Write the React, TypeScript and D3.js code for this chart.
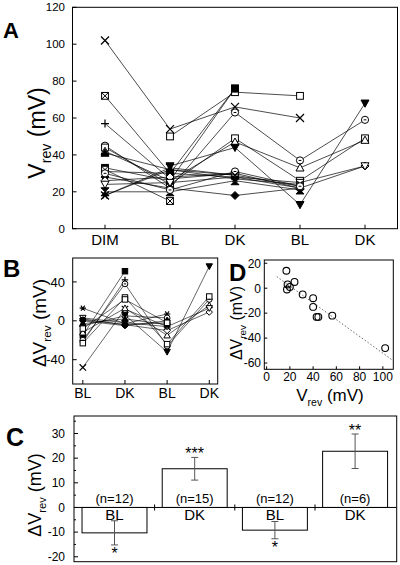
import React from "react";
import * as d3 from "d3";

const FONT = "'Liberation Sans', Arial, Helvetica, sans-serif";

// ---------- Panel A: Vrev per cell across conditions ----------
const catsA = ["DIM", "BL", "DK", "BL", "DK"];
const markersA = ["x", "sq", "sqx", "plus", "circ", "sq", "tri", "tridf", "trif", "sqf", "circf", "diamf", "diam", "trid", "star", "hour", "sqx", "circ", "x"];
const dimA = [102, null, 72, 57, 45, 44, 42, null, 41, 33, 31, 28, 26, 24, 18, 20, 32, 30, 18];
const bl1A = [54, 50, 30, 27, 22, 24, 26, 34, 32, 26, 30, 22, 28, 25, 32, 20, 15, 21, 33];
const dk1A = [66, 74, 76, 30, 63, 49, 47, 44, 29, 76, 28, 18, 30, 28, 27, 26, null, 31, 29];
const bl2A = [60, 72, null, null, 37, 26, 33, 13, 23, null, 22, 22, 22, 25, 24, 21, null, 23, null];
const dk2A = [null, null, null, null, 59, 49, 48, 68, null, null, null, null, 34, 34, null, null, null, null, null];
const ticksA = [0, 20, 40, 60, 80, 100, 120];

// ---------- Panel B: delta Vrev ----------
const catsB = ["BL", "DK", "BL", "DK"];
const markersB = ["x", "sqf", "plus", "circ", "sq", "tri", "star", "circ", "diam", "trid", "trif", "diamf", "tridf", "circf", "sq"];
const bl1B = [-48, -15, -22, -20, -23, -12, 13, -5, 2, 3, -3, 0, null, 1, -8];
const dk1B = [12, 51, 42, 38, 24, 13, -3, 5, -4, -2, 2, -5, 6, -4, 22];
const bl2B = [-6, null, null, -26, -24, -15, 7, 3, -10, -6, -4, 0, -32, -2, -2];
const dk2B = [null, null, null, 22, 25, 16, null, null, 9, 13, null, null, 56, null, null];
const ticksB = [-40, 0, 40];

// ---------- Panel D: delta Vrev vs Vrev ----------
const vrevD = [17, 18, 17.5, 20, 24, 31, 40, 40, 43, 44.5, 56.5, 102];
const deltaD = [14, 3, -1, 1, 5, -5, -8, -15, -23, -23, -22, -48];
const fitSlopeD = -0.673;
const fitInterceptD = 15.2;
const fitRangeD = [8.7, 107.8];
const xTicksD = [0, 20, 40, 60, 80, 100];
const yTicksD = [-60, -40, -20, 0, 20];

// ---------- Panel C: mean delta Vrev ----------
const catsC = ["BL", "DK", "BL2", "DK2"];
const labelsC = ["BL", "DK", "BL", "DK"];
const meansC = [-10.3, 15.7, -9.2, 22.8];
const semC = [4.9, 4.6, 3.5, 7.0];
const nC = ["(n=12)", "(n=15)", "(n=12)", "(n=6)"];
const starsC = ["*", "***", "*", "**"];
const ticksC = [-20, -10, 0, 10, 20, 30];

type M = { type: string; x: number; y: number; s: number };

function Marker({ type, x, y, s }: M) {
  const k = "#000";
  const sw = 1;
  switch (type) {
    case "x":
      return <path d={`M${x - s},${y - s}L${x + s},${y + s}M${x - s},${y + s}L${x + s},${y - s}`} stroke={k} strokeWidth={1.2} fill="none" />;
    case "plus":
      return <path d={`M${x - s},${y}L${x + s},${y}M${x},${y - s}L${x},${y + s}`} stroke={k} strokeWidth={1.2} fill="none" />;
    case "star":
      return <path d={`M${x - s},${y}L${x + s},${y}M${x - s * 0.6},${y - s * 0.8}L${x + s * 0.6},${y + s * 0.8}M${x - s * 0.6},${y + s * 0.8}L${x + s * 0.6},${y - s * 0.8}`} stroke={k} strokeWidth={1.1} fill="none" />;
    case "sq":
      return <rect x={x - s * 0.85} y={y - s * 0.85} width={s * 1.7} height={s * 1.7} fill="#fff" stroke={k} strokeWidth={sw} />;
    case "sqf":
      return <rect x={x - s * 0.85} y={y - s * 0.85} width={s * 1.7} height={s * 1.7} fill={k} stroke={k} strokeWidth={sw} />;
    case "sqx":
      return (
        <g>
          <rect x={x - s * 0.85} y={y - s * 0.85} width={s * 1.7} height={s * 1.7} fill="#fff" stroke={k} strokeWidth={sw} />
          <path d={`M${x - s * 0.85},${y - s * 0.85}L${x + s * 0.85},${y + s * 0.85}M${x - s * 0.85},${y + s * 0.85}L${x + s * 0.85},${y - s * 0.85}`} stroke={k} strokeWidth={sw} />
        </g>
      );
    case "circ":
      return (
        <g>
          <circle cx={x} cy={y} r={s * 0.9} fill="#fff" stroke={k} strokeWidth={sw} />
          <path d={`M${x - s * 0.35},${y}L${x + s * 0.35},${y}`} stroke={k} strokeWidth={sw} />
        </g>
      );
    case "circf":
      return <circle cx={x} cy={y} r={s * 0.9} fill={k} stroke={k} strokeWidth={sw} />;
    case "tri":
      return <path d={`M${x},${y - s}L${x + s},${y + s * 0.8}L${x - s},${y + s * 0.8}Z`} fill="#fff" stroke={k} strokeWidth={sw} />;
    case "trif":
      return <path d={`M${x},${y - s}L${x + s},${y + s * 0.8}L${x - s},${y + s * 0.8}Z`} fill={k} stroke={k} strokeWidth={sw} />;
    case "trid":
      return <path d={`M${x},${y + s}L${x + s},${y - s * 0.8}L${x - s},${y - s * 0.8}Z`} fill="#fff" stroke={k} strokeWidth={sw} />;
    case "tridf":
      return <path d={`M${x},${y + s}L${x + s},${y - s * 0.8}L${x - s},${y - s * 0.8}Z`} fill={k} stroke={k} strokeWidth={sw} />;
    case "diam":
      return <path d={`M${x},${y - s}L${x + s},${y}L${x},${y + s}L${x - s},${y}Z`} fill="#fff" stroke={k} strokeWidth={sw} />;
    case "diamf":
      return <path d={`M${x},${y - s}L${x + s},${y}L${x},${y + s}L${x - s},${y}Z`} fill={k} stroke={k} strokeWidth={sw} />;
    case "hour":
      return <path d={`M${x - s},${y - s}L${x + s},${y - s}L${x - s},${y + s}L${x + s},${y + s}Z`} fill={k} stroke={k} strokeWidth={sw} />;
    default:
      return <circle cx={x} cy={y} r={s} fill="none" stroke={k} />;
  }
}

function VLabel({ x, y, size, delta }: { x: number; y: number; size: number; delta?: boolean }) {
  const sub = size * 0.62;
  return (
    <text transform={`translate(${x},${y}) rotate(-90)`} textAnchor="middle" fontFamily={FONT} fontSize={size}>
      {delta ? "\u0394V" : "V"}
      <tspan fontSize={sub} dy={size * 0.28}>rev</tspan>
      <tspan dy={-size * 0.28}> (mV)</tspan>
    </text>
  );
}

export default function App() {
  // ---- scales A ----
  const xA = d3.scaleLinear().domain([0.5, 5.5]).range([72.5, 397.5]);
  const yA = d3.scaleLinear().domain([0, 120]).range([228.7, 7.3]);
  const colsA = [dimA, bl1A, dk1A, bl2A, dk2A];
  const lineA = d3
    .line<[number, number | null]>()
    .defined((d) => d[1] != null)
    .x((d) => xA(d[0]))
    .y((d) => yA(d[1] as number));

  // ---- scales B ----
  const xB = d3.scaleLinear().domain([-0.24, 3.2]).range([72.7, 217.7]);
  const yB = d3.scaleLinear().domain([-65, 64.6]).range([384, 258]);
  const colsB = [bl1B, dk1B, bl2B, dk2B];
  const lineB = d3
    .line<[number, number | null]>()
    .defined((d) => d[1] != null)
    .x((d) => xB(d[0]))
    .y((d) => yB(d[1] as number));

  // ---- scales D ----
  const xD = d3.scaleLinear().domain([-2, 109]).range([264.3, 393.3]);
  const yD = d3.scaleLinear().domain([-65, 22.6]).range([369.3, 260]);

  // ---- scales C ----
  const xC = d3.scaleBand<string>().domain(catsC).range([74.4, 395.2]).padding(0);
  const yC = d3.scaleLinear().domain([-22, 37.1]).range([561.7, 416]);
  const barW = xC.bandwidth() * 0.81;

  const tick = 4;

  return (
    <svg width={400} height={565} style={{ position: "absolute", left: 0, top: 0, background: "#fff" }}>
      <rect x={0} y={0} width={400} height={565} fill="#fff" />

      {/* ================= Panel A ================= */}
      <text x={3} y={38} fontFamily={FONT} fontWeight="bold" fontSize={22}>A</text>
      <rect x={xA.range()[0]} y={yA.range()[1]} width={xA.range()[1] - xA.range()[0]} height={yA.range()[0] - yA.range()[1]} fill="none" stroke="#000" strokeWidth={1} />
      {ticksA.map((t) => (
        <g key={"ya" + t}>
          <line x1={xA.range()[0]} x2={xA.range()[0] + tick} y1={yA(t)} y2={yA(t)} stroke="#000" />
          <text x={65} y={yA(t)} dy="0.36em" textAnchor="end" fontFamily={FONT} fontSize={11.5}>{t}</text>
        </g>
      ))}
      {catsA.map((c, i) => (
        <g key={"xa" + i}>
          <line x1={xA(i + 1)} x2={xA(i + 1)} y1={yA(0)} y2={yA(0) - tick} stroke="#000" />
          <text x={xA(i + 1)} y={245} textAnchor="middle" fontFamily={FONT} fontSize={15}>{c}</text>
        </g>
      ))}
      <VLabel x={45} y={133} size={23} />
      {markersA.map((m, j) => {
        const pts: [number, number | null][] = colsA.map((col, i) => [i + 1, col[j]]);
        return <path key={"la" + j} d={lineA(pts) || ""} fill="none" stroke="#000" strokeWidth={0.7} />;
      })}
      {markersA.map((m, j) =>
        colsA.map((col, i) =>
          col[j] == null ? null : <Marker key={`ma${j}-${i}`} type={m} x={xA(i + 1)} y={yA(col[j] as number)} s={4} />
        )
      )}

      {/* ================= Panel B ================= */}
      <text x={3} y={277} fontFamily={FONT} fontWeight="bold" fontSize={24}>B</text>
      <rect x={xB.range()[0]} y={yB.range()[1]} width={xB.range()[1] - xB.range()[0]} height={yB.range()[0] - yB.range()[1]} fill="none" stroke="#000" strokeWidth={1} />
      {ticksB.map((t) => (
        <g key={"yb" + t}>
          <line x1={xB.range()[0]} x2={xB.range()[0] + tick} y1={yB(t)} y2={yB(t)} stroke="#000" />
          <text x={65} y={yB(t)} dy="0.36em" textAnchor="end" fontFamily={FONT} fontSize={13}>{t}</text>
        </g>
      ))}
      {catsB.map((c, i) => (
        <g key={"xb" + i}>
          <line x1={xB(i)} x2={xB(i)} y1={yB.range()[0]} y2={yB.range()[0] - tick} stroke="#000" />
          <text x={xB(i)} y={398} textAnchor="middle" fontFamily={FONT} fontSize={14}>{c}</text>
        </g>
      ))}
      <VLabel x={46} y={323} size={19} delta />
      {markersB.map((m, j) => {
        const pts: [number, number | null][] = colsB.map((col, i) => [i, col[j]]);
        return <path key={"lb" + j} d={lineB(pts) || ""} fill="none" stroke="#000" strokeWidth={0.6} />;
      })}
      {markersB.map((m, j) =>
        colsB.map((col, i) =>
          col[j] == null ? null : <Marker key={`mb${j}-${i}`} type={m} x={xB(i)} y={yB(col[j] as number)} s={3.2} />
        )
      )}

      {/* ================= Panel D ================= */}
      <text x={229} y={281} fontFamily={FONT} fontWeight="bold" fontSize={24}>D</text>
      <rect x={xD.range()[0]} y={yD.range()[1]} width={xD.range()[1] - xD.range()[0]} height={yD.range()[0] - yD.range()[1]} fill="none" stroke="#000" strokeWidth={1} />
      {yTicksD.map((t) => (
        <g key={"yd" + t}>
          <line x1={xD.range()[0]} x2={xD.range()[0] + 3} y1={yD(t)} y2={yD(t)} stroke="#000" />
          <text x={261} y={yD(t)} dy="0.36em" textAnchor="end" fontFamily={FONT} fontSize={12}>{t}</text>
        </g>
      ))}
      {xTicksD.map((t) => (
        <g key={"xd" + t}>
          <line x1={xD(t)} x2={xD(t)} y1={yD.range()[0]} y2={yD.range()[0] - 3} stroke="#000" />
          <text x={xD(t)} y={381} textAnchor="middle" fontFamily={FONT} fontSize={12}>{t}</text>
        </g>
      ))}
      <line
        x1={xD(fitRangeD[0])}
        y1={yD(fitInterceptD + fitSlopeD * fitRangeD[0])}
        x2={xD(fitRangeD[1])}
        y2={yD(fitInterceptD + fitSlopeD * fitRangeD[1])}
        stroke="#444"
        strokeWidth={0.8}
        strokeDasharray="1.5,2"
      />
      {vrevD.map((v, i) => (
        <circle key={"pd" + i} cx={xD(v)} cy={yD(deltaD[i])} r={3.4} fill="none" stroke="#000" strokeWidth={1.1} />
      ))}
      <VLabel x={242} y={323} size={16} delta />
      <text x={330} y={401} textAnchor="middle" fontFamily={FONT} fontSize={17}>
        V<tspan fontSize={10.5} dy={4.5}>rev</tspan>
        <tspan dy={-4.5}> (mV)</tspan>
      </text>

      {/* ================= Panel C ================= */}
      <text x={6} y={446} fontFamily={FONT} fontWeight="bold" fontSize={25}>C</text>
      <rect x={74} y={yC.range()[1]} width={396.7 - 74} height={yC.range()[0] - yC.range()[1]} fill="none" stroke="#000" strokeWidth={1} />
      {d3.range(-20, 36, 5).map((t) => (
        <line key={"mc" + t} x1={74} x2={74 + (t % 10 === 0 ? tick : 2)} y1={yC(t)} y2={yC(t)} stroke="#000" />
      ))}
      {ticksC.map((t) => (
        <text key={"yc" + t} x={65} y={yC(t)} dy="0.36em" textAnchor="end" fontFamily={FONT} fontSize={12}>{t}</text>
      ))}
      <VLabel x={41} y={495} size={18} delta />
      {catsC.map((c, i) => {
        const cx = (xC(c) as number) + xC.bandwidth() / 2;
        const m = meansC[i];
        const y0 = yC(0);
        const ym = yC(m);
        const hi = yC(m + semC[i]);
        const lo = yC(m - semC[i]);
        const starY = m > 0 ? hi + 2 : lo + 14.5;
        return (
          <g key={"bc" + i}>
            <rect x={cx - barW / 2} y={Math.min(y0, ym)} width={barW} height={Math.abs(ym - y0)} fill="#fff" stroke="#000" strokeWidth={1} />
            <line x1={cx} x2={cx} y1={hi} y2={lo} stroke="#555" strokeWidth={1} />
            <line x1={cx - 3.5} x2={cx + 3.5} y1={hi} y2={hi} stroke="#555" strokeWidth={1} />
            <line x1={cx - 3.5} x2={cx + 3.5} y1={lo} y2={lo} stroke="#555" strokeWidth={1} />
            <text x={cx} y={y0 - 4} textAnchor="middle" fontFamily={FONT} fontSize={13}>{nC[i]}</text>
            <text x={cx} y={y0 + 13} textAnchor="middle" fontFamily={FONT} fontSize={15}>{labelsC[i]}</text>
            <text x={cx} y={starY} textAnchor="middle" fontFamily={FONT} fontSize={16}>{starsC[i]}</text>
          </g>
        );
      })}
      <line x1={74} x2={396.7} y1={yC(0)} y2={yC(0)} stroke="#000" strokeWidth={1} />
      {catsC.slice(1).map((c) => (
        <line key={"tc" + c} x1={xC(c) as number} x2={xC(c) as number} y1={yC(0) - 3} y2={yC(0) + 3} stroke="#000" />
      ))}
    </svg>
  );
}
